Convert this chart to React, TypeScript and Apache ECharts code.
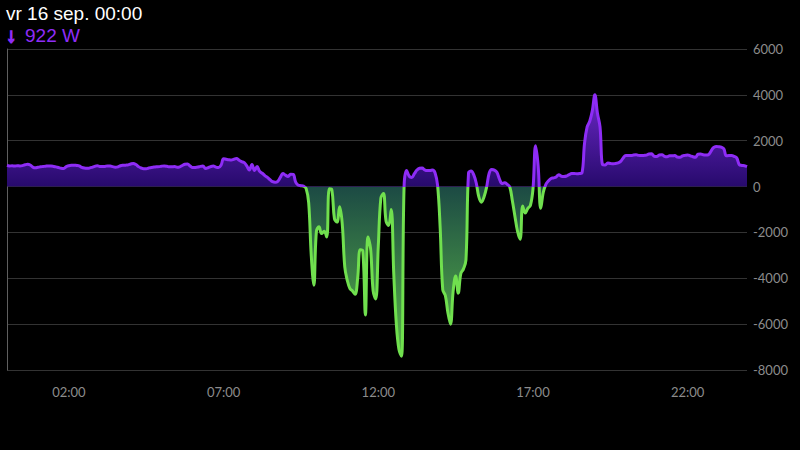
import { useEffect, useRef } from "react";
import * as echarts from "echarts";

const titleText = "vr 16 sep. 00:00";
const unit = "W";
const xTickLabels = ["02:00", "07:00", "12:00", "17:00", "22:00"];
const yMin = -8000;
const yMax = 6000;
const yStep = 2000;
const stepMinutes = 5;

// Power in W, one value per 5 minutes (one row per hour)
const powerW = [
  922, 900, 905, 895, 910, 900, 915, 950, 970, 940, 850, 820,
  840, 860, 875, 890, 900, 895, 880, 860, 830, 800, 790, 870,
  910, 930, 935, 920, 900, 840, 810, 800, 810, 840, 880, 905,
  880, 870, 880, 900, 895, 870, 845, 860, 910, 930, 935, 945,
  985, 1010, 960, 870, 810, 780, 780, 810, 835, 850, 865, 870,
  890, 900, 885, 860, 865, 870, 840, 860, 920, 975, 985, 900,
  830, 835, 850, 880, 895, 790, 820, 870, 895, 850, 830, 930,
  1210, 1190, 1170, 1160, 1190, 1220, 1150, 1090, 1040, 900, 720, 960,
  700, 870, 660, 580, 480, 400, 300, 215, 190, 230, 400, 570,
  500, 440, 540, 530, 180, 60, 40, 20, -80, -700, -3000, -4300,
  -1950, -1750, -2050, -1950, -2200, -100, -150, -1400, -1550, -880, -1600, -3500,
  -4100, -4450, -4550, -4700, -4000, -2750, -2800, -5600, -2200, -2700, -4550, -4900,
  -2600, -500, -300, -1500, -1700, -1000, -3800, -6000, -7100, -7400, 0, 700,
  450, 400, 560, 720, 800, 810, 730, 700, 700, 720, 600, 50,
  -1800, -4500, -4750, -5500, -6000, -4600, -3900, -4650, -3800, -3600, -3200, 600,
  680, 520, 150, -450, -680, -450, -30, 580, 740, 720, 620, 330,
  130, 170, 100, -20, -620, -1300, -1950, -2300, -850, -1150, -950, -820,
  -100, 1780, 900, -950, -250, 100, 250, 350, 380, 420, 520, 450,
  440, 460, 520, 570, 570, 560, 570, 600, 1900, 2600, 2850, 3300,
  4000, 3200, 2600, 950, 940, 1030, 1010, 990, 1010, 1030, 1100, 1250,
  1360, 1360, 1350, 1380, 1390, 1360, 1350, 1360, 1370, 1420, 1430, 1320,
  1310, 1380, 1390, 1320, 1300, 1340, 1340, 1350, 1290, 1280, 1340, 1360,
  1380, 1340, 1300, 1280, 1410, 1420, 1390, 1380, 1390, 1540, 1700, 1750,
  1740, 1720, 1650, 1340, 1350, 1350, 1320, 1250, 960, 920, 910, 870,
];

const times = powerW.map((_, i) => {
  const m = i * stepMinutes;
  return `${String(Math.floor(m / 60)).padStart(2, "0")}:${String(m % 60).padStart(2, "0")}`;
});

const W = 800;
const H = 450;
const gridTop = 49;
const gridBottom = 80;
const gridLeft = 7;
const gridRight = 53;

const PURPLE = "#8e2cf6";
const GREEN = "#70e04e";
const AXIS_TEXT = "#8c8c8c";
const SPLIT = "#333333";
const LEFT_LINE = "#5f5f5f";

export default function App() {
  const ref = useRef<HTMLDivElement>(null);

  useEffect(() => {
    if (!ref.current) return;
    const chart = echarts.init(ref.current, undefined, { renderer: "svg" });
    const zeroFrac = yMax / (yMax - yMin);
    const y0 = gridTop;
    const y1 = H - gridBottom;
    const lineColor = new echarts.graphic.LinearGradient(
      0, y0, 0, y1,
      [
        { offset: 0, color: PURPLE },
        { offset: zeroFrac, color: PURPLE },
        { offset: zeroFrac, color: GREEN },
        { offset: 1, color: GREEN },
      ],
      true
    );
    const areaColor = new echarts.graphic.LinearGradient(
      0, y0, 0, y1,
      [
        { offset: 0, color: "#8d36f4" },
        { offset: zeroFrac, color: "#270a6c" },
        { offset: zeroFrac, color: "#1c4a44" },
        { offset: 1, color: "#5ebe48" },
      ],
      true
    );

    chart.setOption({
      animation: false,
      backgroundColor: "#000000",
      title: [
        {
          text: titleText,
          left: 6,
          top: 4,
          padding: 0,
          textStyle: { color: "#ffffff", fontSize: 19, fontWeight: "normal", fontFamily: "Liberation Sans" },
        },
        {
          text: `{a|\u2193}${powerW[0]} ${unit}`,
          left: 6,
          top: 25,
          padding: 0,
          textStyle: {
            color: PURPLE,
            fontSize: 19,
            fontWeight: "normal",
            fontFamily: "Liberation Sans",
            rich: {
              a: {
                color: PURPLE,
                fontSize: 20,
                fontWeight: "bold",
                fontFamily: "Liberation Sans",
                textBorderColor: PURPLE,
                textBorderWidth: 1.6,
                padding: [0, 9, 0, 0],
              },
            },
          },
        },
      ],
      grid: { left: gridLeft, right: gridRight, top: gridTop, bottom: gridBottom, containLabel: false },
      xAxis: {
        type: "category",
        data: times,
        boundaryGap: false,
        axisLine: { show: false },
        axisTick: {
          show: true,
          interval: (i: number) => i === 0,
          length: 8,
          lineStyle: { color: LEFT_LINE },
        },
        axisLabel: {
          interval: (_i: number, v: string) => xTickLabels.includes(v),
          color: AXIS_TEXT,
          fontSize: 13,
          fontFamily: "Lato",
          margin: 15,
        },
        splitLine: { show: false },
      },
      yAxis: [
        {
          type: "value",
          position: "right",
          min: yMin,
          max: yMax,
          interval: yStep,
          axisLine: { show: false },
          axisTick: { show: false },
          axisLabel: {
            color: AXIS_TEXT,
            fontSize: 13,
            fontFamily: "Lato",
            margin: 6,
            formatter: (v: number) => String(v),
          },
          splitLine: { lineStyle: { color: SPLIT, width: 1 } },
        },
        {
          type: "value",
          position: "left",
          min: yMin,
          max: yMax,
          interval: yStep,
          axisLine: { show: true, lineStyle: { color: LEFT_LINE } },
          axisTick: { show: false },
          axisLabel: { show: false },
          splitLine: { show: false },
        },
      ],
      series: [
        {
          type: "line",
          data: powerW,
          yAxisIndex: 0,
          smooth: 0.4,
          symbol: "none",
          lineStyle: { color: lineColor, width: 3 },
          areaStyle: { color: areaColor, opacity: 1 },
        },
      ],
    });
    return () => chart.dispose();
  }, []);

  return (
    <div
      ref={ref}
      style={{ position: "fixed", left: 0, top: 0, width: W, height: H, background: "#000" }}
    />
  );
}
